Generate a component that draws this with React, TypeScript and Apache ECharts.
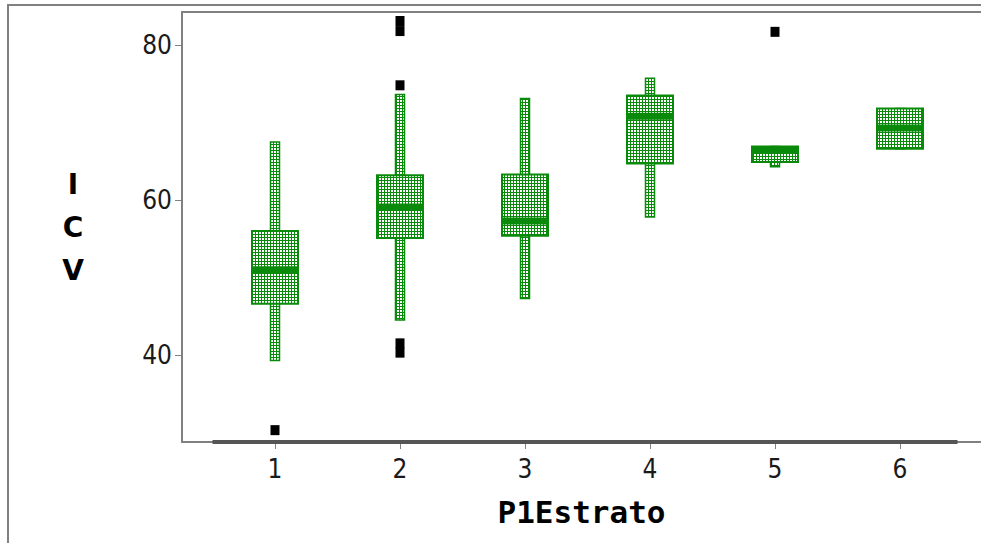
import React, { useEffect, useRef } from "react";
import * as echarts from "echarts";

// ---- data ----
const categories = [1, 2, 3, 4, 5, 6];
const whiskerLow = [39.3, 44.5, 47.3, 57.8, 64.3, 66.6];
const q1 = [46.6, 55.1, 55.4, 64.7, 64.9, 66.6];
const median = [51.0, 59.1, 57.3, 70.8, 66.4, 69.3];
const q3 = [56.0, 63.2, 63.3, 73.5, 66.9, 71.8];
const whiskerHigh = [67.5, 73.6, 73.1, 75.7, 66.9, 71.8];
const outlierX = [1, 2, 2, 2, 2, 2, 5];
const outlierY = [30.3, 83.1, 81.8, 74.8, 41.5, 40.3, 81.7];
const yTicks = [40, 60, 80];
const xTicks = [1, 2, 3, 4, 5, 6];

const GREEN = "#0a8a0a";
const GRAY = "#808080";

export default function App() {
  const ref = useRef<HTMLDivElement>(null);

  useEffect(() => {
    if (!ref.current) return;
    const chart = echarts.init(ref.current, undefined, { renderer: "svg" });

    const c = document.createElement("canvas");
    c.width = 3;
    c.height = 3;
    const ctx = c.getContext("2d")!;
    ctx.fillStyle = GREEN;
    ctx.fillRect(0, 0, 3, 3);
    ctx.fillStyle = "#ffffff";
    ctx.fillRect(1, 1, 2, 2);
    const pattern = { image: c, repeat: "repeat" };

    const yMin = 28.77;
    const yMax = 84.26;
    const xMin = 0.256;
    const xMax = 6.648;

    const boxData = categories.map((c2, i) => [
      c2,
      whiskerLow[i],
      q1[i],
      median[i],
      q3[i],
      whiskerHigh[i],
    ]);
    const outliers = outlierX.map((x, i) => [x, outlierY[i]]);

    const tickFont = '"Liberation Sans Narrow", "DejaVu Sans Condensed", "Roboto Condensed", sans-serif';
    const titleFont = '"DejaVu Sans Mono", "Liberation Mono", monospace';

    chart.setOption({
      animation: false,
      backgroundColor: "#ffffff",
      grid: {
        left: 182,
        top: 12,
        right: 0,
        bottom: 101,
      },
      graphic: [
        {
          type: "rect",
          shape: { x: 8, y: 5, width: 2000, height: 2000 },
          style: { fill: "none", stroke: GRAY, lineWidth: 2 },
          silent: true,
        },
      ],
      xAxis: [
        {
          type: "value",
          min: xMin,
          max: xMax,
          name: "P1Estrato",
          nameLocation: "middle",
          nameGap: 70,
          nameTextStyle: {
            fontFamily: titleFont,
            fontWeight: "bold",
            fontSize: 31,
            color: "#000",
            verticalAlign: "middle",
          },
          splitLine: { show: false },
          axisLine: { show: true, lineStyle: { color: GRAY, width: 2 } },
          axisTick: {
            show: true,
            customValues: xTicks,
            length: 7,
            lineStyle: { color: GRAY, width: 1 },
          },
          axisLabel: {
            customValues: xTicks,
            fontFamily: tickFont,
            fontSize: 26,
            color: "#1a1a1a",
            margin: 14,
          },
        },
        {
          type: "value",
          position: "top",
          min: xMin,
          max: xMax,
          splitLine: { show: false },
          axisLine: { show: true, lineStyle: { color: GRAY, width: 2 } },
          axisTick: { show: false },
          axisLabel: { show: false },
        },
      ],
      yAxis: {
        type: "value",
        min: yMin,
        max: yMax,
        name: "I\nC\nV",
        nameLocation: "middle",
        nameGap: 109,
        nameRotate: 0,
        nameTextStyle: {
          fontFamily: '"DejaVu Sans", sans-serif',
          fontWeight: "bold",
          fontSize: 28,
          lineHeight: 43,
          color: "#000",
          align: "center",
          verticalAlign: "middle",
        },
        splitLine: { show: false },
        axisLine: { show: true, lineStyle: { color: GRAY, width: 2 } },
        axisTick: {
          show: true,
          customValues: yTicks,
          length: 7,
          lineStyle: { color: GRAY, width: 1 },
        },
        axisLabel: {
          customValues: yTicks,
          fontFamily: tickFont,
          fontSize: 26,
          color: "#1a1a1a",
          margin: 10,
        },
      },
      series: [
        {
          type: "line",
          data: [
            [0.5, yMin],
            [6.46, yMin],
          ],
          symbol: "none",
          lineStyle: { color: "#555555", width: 4 },
          silent: true,
          z: 3,
        },
        {
          type: "custom",
          data: boxData,
          z: 4,
          renderItem: (params: any, api: any) => {
            const x = api.value(0);
            const lo = api.coord([x, api.value(1)]);
            const b1 = api.coord([x, api.value(2)]);
            const md = api.coord([x, api.value(3)]);
            const b3 = api.coord([x, api.value(4)]);
            const hi = api.coord([x, api.value(5)]);
            const bw = api.size([0.368, 0])[0];
            const ww = api.size([0.072, 0])[0];
            const cx = lo[0];
            const children: any[] = [];
            if (hi[1] < lo[1] - 1) {
              children.push({
                type: "rect",
                shape: { x: cx - ww / 2, y: hi[1], width: ww, height: lo[1] - hi[1] },
                style: { fill: pattern, stroke: GREEN, lineWidth: 1.5 },
              });
            }
            children.push({
              type: "rect",
              shape: { x: cx - bw / 2, y: b3[1], width: bw, height: Math.max(b1[1] - b3[1], 1) },
              style: { fill: pattern, stroke: GREEN, lineWidth: 2 },
            });
            children.push({
              type: "rect",
              shape: { x: cx - bw / 2, y: md[1] - 3.5, width: bw, height: 7 },
              style: { fill: GREEN },
            });
            return { type: "group", children };
          },
        },
        {
          type: "scatter",
          data: outliers,
          symbol: "rect",
          symbolSize: [9, 10],
          itemStyle: { color: "#000000", opacity: 1 },
          z: 5,
        },
      ],
    });

    return () => chart.dispose();
  }, []);

  return (
    <div
      ref={ref}
      style={{ position: "fixed", left: 0, top: 0, width: 981, height: 543, background: "#fff" }}
    />
  );
}
